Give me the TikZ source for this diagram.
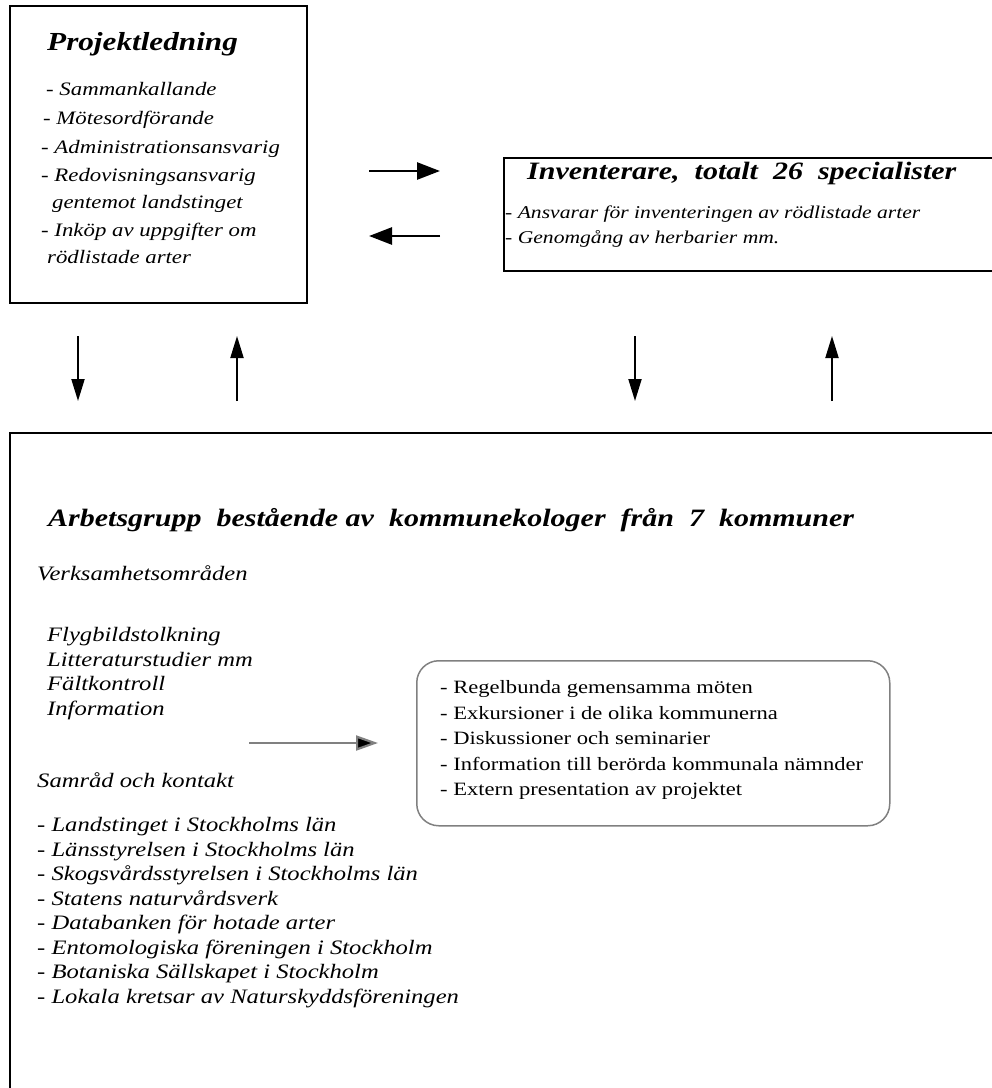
\documentclass[tikz,border=0pt]{standalone}
\usepackage{fontspec}
\setmainfont{Liberation Serif}[FakeStretch=1.2]
\usetikzlibrary{arrows.meta}

\begin{document}
\begin{tikzpicture}[x=1pt, y=-1pt,
    box/.style={draw, line width=1.8pt, inner sep=0pt, anchor=north west},
    harr/.style={line width=2.6pt, -{Triangle[length=23pt, width=17pt]}},
    varr/.style={line width=2pt, -{Triangle[length=22pt, width=13pt]}},
    head/.style={font=\fontsize{25}{28}\selectfont\bfseries\itshape, anchor=base west, inner sep=0pt},
    item/.style={font=\fontsize{19}{22}\selectfont\itshape, anchor=base west, inner sep=0pt},
    bigitem/.style={font=\fontsize{20.5}{24}\selectfont\itshape, anchor=base west, inner sep=0pt},
    plain/.style={font=\fontsize{18.8}{22}\selectfont, anchor=base west, inner sep=0pt},
  ]
    \useasboundingbox (0,0) rectangle (992,1088);

    % Boxes
    \node[box, minimum width=297, minimum height=297] (pl) at (9,5) {};
    \node[box, minimum width=520, minimum height=113] (inv) at (503,157) {};
    \node[box, minimum width=1010, minimum height=700] (ag) at (9,432) {};
    \node[box, draw=gray, line width=1.5pt, rounded corners=22pt,
          minimum width=473, minimum height=165] (act) at (416,660) {};

    % Projektledning
    \node[head, font=\fontsize{26}{28}\selectfont\bfseries\itshape] (plhead) at (47,50) {Projektledning};
    \foreach \i/\x/\y/\t in {1/46/95/- Sammankallande, 2/43/124/- Mötesordförande,
        3/41/153/- Administrationsansvarig, 4/41/181/- Redovisningsansvarig,
        5/52/208/gentemot landstinget, 6/41/236/- Inköp av uppgifter om,
        7/47/263/rödlistade arter}
      \node[item] (pl\i) at (\x,\y) {\t};

    % Inventerare
    \node[head] (invhead) at (527,179) {Inventerare,\ \ totalt\ \ 26\ \ specialister};
    \node[item, font=\fontsize{18}{22}\selectfont\itshape] (inv1) at (505,218) {- Ansvarar för inventeringen av rödlistade arter};
    \node[item, font=\fontsize{18}{22}\selectfont\itshape] (inv2) at (505,243) {- Genomgång av herbarier mm.};

    % Arrows between the upper boxes
    \coordinate (h1a) at (369,171);
    \coordinate (h1b) at (440,171);
    \coordinate (h2a) at (440,236);
    \coordinate (h2b) at (369,236);
    \draw[harr] (h1a) -- (h1b);
    \draw[harr] (h2a) -- (h2b);

    % Arrows to and from the working group
    \foreach \n/\x/\a/\b in {1/78/336/401, 2/237/401/336, 3/635/336/401, 4/832/401/336} {
      \coordinate (v\n a) at (\x,\a);
      \coordinate (v\n b) at (\x,\b);
      \draw[varr] (v\n a) -- (v\n b);
    }

    % Arbetsgrupp
    \node[head] (aghead) at (48,526) {Arbetsgrupp\ \ bestående av\ \ kommunekologer\ \ från\ \ 7\ \ kommuner};
    \node[bigitem] (verk) at (37,580) {Verksamhetsområden};
    \foreach \i/\y/\t in {1/641/Flygbildstolkning, 2/666/Litteraturstudier mm,
        3/690/Fältkontroll, 4/715/Information}
      \node[bigitem] (verk\i) at (47,\y) {\t};

    \coordinate (ga) at (249,743);
    \coordinate (gb) at (378,743);
    \draw[line width=2.2pt, draw=gray, -{Triangle[length=22pt, width=15pt, fill=black]}] (ga) -- (gb);

    \foreach \i/\y/\t in {1/693/- Regelbunda gemensamma möten, 2/719/- Exkursioner i de olika kommunerna,
        3/744/- Diskussioner och seminarier, 4/770/- Information till berörda kommunala nämnder,
        5/795/- Extern presentation av projektet}
      \node[plain] (act\i) at (440,\y) {\t};

    \node[bigitem] (samrad) at (37,787) {Samråd och kontakt};
    \foreach \i/\y/\t in {1/831/- Landstinget i Stockholms\ län, 2/856/- Länsstyrelsen i Stockholms län,
        3/880/- Skogsvårdsstyrelsen i Stockholms län, 4/905/- Statens naturvårdsverk,
        5/929/- Databanken för hotade arter, 6/954/- Entomologiska föreningen i Stockholm,
        7/978/- Botaniska Sällskapet i Stockholm, 8/1003/- Lokala\ kretsar av Naturskyddsföreningen}
      \node[bigitem] (sam\i) at (37,\y) {\t};
\end{tikzpicture}
\end{document}
